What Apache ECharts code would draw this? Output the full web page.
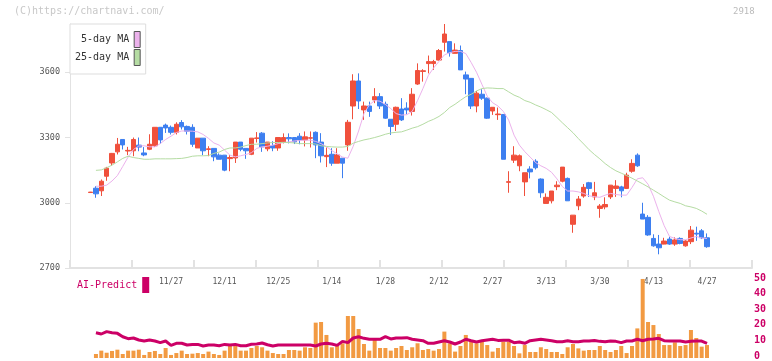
<!DOCTYPE html>
<html><head><meta charset="utf-8">
<script src="https://cdn.jsdelivr.net/npm/echarts@6/dist/echarts.min.js"></script>
<style>html,body{margin:0;padding:0;background:#fff}#c{width:772px;height:361px}</style>
</head><body><div id="c"></div>
<script>
const categories = ['11/6','11/7','11/8','11/11','11/12','11/13','11/14','11/15','11/18','11/19','11/20','11/21','11/22','11/25','11/26',
'11/27','11/28','11/29','12/2','12/3','12/4','12/5','12/6','12/9','12/10',
'12/11','12/12','12/13','12/16','12/17','12/18','12/19','12/20','12/23','12/24',
'12/25','12/26','12/27','12/30','1/6','1/7','1/8','1/9','1/10','1/13',
'1/14','1/15','1/16','1/17','1/20','1/21','1/22','1/23','1/24','1/27',
'1/28','1/29','1/30','1/31','2/3','2/4','2/5','2/6','2/7','2/10',
'2/12','2/13','2/14','2/17','2/18','2/19','2/20','2/21','2/25','2/26',
'2/27','2/28','3/2','3/3','3/4','3/5','3/6','3/9','3/10','3/11',
'3/13','3/16','3/17','3/18','3/19','3/23','3/24','3/25','3/26','3/27',
'3/30','3/31','4/1','4/2','4/3','4/6','4/7','4/8','4/9','4/10',
'4/13','4/14','4/15','4/16','4/17','4/20','4/21','4/22','4/23','4/24',
'4/27'];
const tickLabels = ['11/27','12/11','12/25','1/14','1/28','2/12','2/27','3/13','3/30','4/13','4/27'];
const openP = [3047,3067,3055,3122,3183,3234,3291,3238,3239,3265,3229,3246,3262,3347,3357,3347,3324,3369,3351,3347,
3252,3297,3245,3250,3219,3219,3203,3206,3279,3250,3223,3296,3320,3248,3263,3252,3280,3300,3300,3306,
3289,3297,3324,3279,3212,3223,3182,3205,3266,3445,3560,3427,3445,3473,3488,3453,3384,3361,3431,3435,
3420,3546,3604,3640,3640,3656,3738,3741,3687,3700,3588,3572,3445,3499,3481,3422,3405,3406,3094,3196,
3170,3096,3155,3191,3109,2997,3009,3074,3099,3112,2901,2986,3031,3092,3027,2974,2981,3027,3066,3073,
3066,3145,3219,2948,2933,2836,2810,2810,2833,2810,2836,2802,2821,2860,2871,2839];
const closeP = [3049,3041,3099,3159,3227,3269,3266,3241,3291,3256,3220,3269,3347,3289,3344,3324,3361,3349,3329,3269,
3297,3239,3248,3211,3200,3150,3208,3279,3246,3239,3297,3298,3257,3279,3252,3300,3300,3294,3280,3289,
3303,3299,3266,3216,3218,3182,3220,3182,3370,3560,3468,3445,3420,3488,3445,3389,3351,3439,3381,3427,
3499,3608,3607,3649,3649,3700,3776,3690,3702,3611,3569,3445,3504,3481,3389,3439,3408,3200,3097,3219,
3216,3138,3142,3161,3046,3025,3054,3081,3164,3009,2943,3017,3071,3066,3046,2985,2992,3081,3077,3055,
3127,3181,3170,2925,2852,2802,2793,2824,2810,2829,2813,2824,2874,2856,2839,2798];
const lowP = [3046,3023,3031,3101,3170,3222,3245,3219,3214,3237,3214,3242,3257,3271,3321,3314,3314,3337,3314,3257,
3252,3219,3214,3191,3200,3145,3145,3183,3237,3202,3219,3277,3234,3237,3237,3239,3273,3273,3270,3269,
3259,3254,3205,3185,3164,3170,3182,3113,3239,3384,3431,3381,3395,3458,3431,3386,3312,3330,3376,3407,
3401,3542,3557,3595,3611,3654,3695,3672,3687,3611,3499,3431,3416,3473,3386,3404,3381,3200,3046,3183,
3145,3031,3112,3153,3023,2997,2997,3058,3094,3009,2862,2966,3023,3027,3012,2931,2970,3017,3027,3025,
3063,3138,3165,2925,2848,2798,2763,2809,2806,2802,2809,2798,2810,2825,2833,2793];
const highP = [3050,3076,3107,3165,3229,3298,3291,3257,3300,3300,3256,3315,3347,3347,3364,3355,3370,3380,3355,3361,
3297,3297,3260,3250,3227,3219,3219,3279,3279,3250,3297,3325,3325,3279,3283,3300,3319,3319,3300,3320,
3328,3328,3328,3320,3254,3251,3251,3205,3381,3591,3595,3465,3465,3527,3504,3465,3384,3442,3481,3462,
3527,3641,3614,3677,3657,3707,3822,3741,3733,3723,3603,3572,3514,3522,3484,3439,3438,3406,3145,3260,
3222,3138,3168,3200,3112,3043,3054,3099,3164,3116,2943,3031,3086,3096,3096,2994,3025,3081,3104,3078,
3138,3200,3227,3000,2943,2855,2852,2839,2844,2841,2841,2829,2893,2890,2879,2859];
const ma5 = [null,3076,3076,3081,3100,3125,3167,3210,3245,3261,3262,3257,3257,3272,3291,3306,3323,3330,3330,3329,
3326,3314,3296,3275,3265,3242,3219,3211,3216,3222,3230,3250,3257,3260,3265,3272,3277,3280,3284,3286,
3288,3288,3282,3272,3258,3240,3225,3210,3205,3260,3330,3410,3450,3470,3467,3452,3433,3410,3403,3405,
3420,3470,3525,3585,3620,3650,3680,3690,3696,3696,3686,3645,3600,3545,3490,3460,3445,3420,3380,3311,
3265,3235,3210,3185,3170,3158,3140,3110,3075,3054,3054,3050,3043,3032,3028,3025,3035,3043,3038,3035,
3035,3070,3110,3115,3085,3030,2960,2895,2845,2836,2830,2830,2838,2845,2838,2836];
const ma25 = [null,3149,3151,3161,3173,3188,3204,3214,3208,3204,3200,3200,3202,3202,3202,3202,3203,3204,3208,3214,
3216,3216,3217,3227,3233,3245,3252,3252,3256,3263,3269,3269,3272,3275,3277,3277,3277,3277,3275,3272,
3272,3272,3270,3262,3259,3257,3256,3256,3259,3274,3282,3289,3294,3300,3307,3315,3321,3324,3326,3334,
3343,3350,3361,3374,3384,3397,3415,3438,3453,3471,3488,3499,3514,3525,3528,3527,3525,3525,3510,3495,
3485,3470,3462,3450,3440,3428,3415,3392,3368,3345,3322,3295,3270,3244,3222,3202,3180,3162,3147,3136,
3125,3113,3100,3087,3073,3058,3043,3027,3012,3004,2997,2986,2981,2974,2962,2947];
const volume = [null,2.5,4.6,3.3,4.4,5.2,2.5,4.6,4.6,5.2,1.9,3.75,4.4,2.5,6.25,1.9,3.1,4.6,2.5,2.7,
3.1,2.5,4.0,2.5,1.9,4.6,7.5,7.5,4.6,4.6,6.25,7.5,6.7,4.6,3.1,2.5,2.5,5.0,5.0,4.6,
6.7,6.25,22.1,22.5,14.4,6.7,7.5,9.2,26.25,26.25,18.1,8.75,4.6,11.25,6.25,6.25,4.6,6.25,7.5,5.0,
6.7,9.2,5.0,5.6,4.6,5.6,16.5,9.2,4.0,7.5,14.4,11.25,9.2,10.2,8.1,4.0,6.25,10.2,10.2,7.5,
2.9,8.1,3.75,3.75,6.7,5.6,3.75,3.75,2.5,6.7,8.75,6.0,4.6,5.0,5.0,7.5,5.0,3.75,5.0,7.5,
3.1,7.5,18.5,49.4,22.5,20.6,15.0,8.1,8.1,9.8,7.5,8.1,17.5,12.5,7.1,8.1];
const aiPredict = [null,15.8,15.0,16.5,15.8,15.4,13.3,12.1,12.5,11.25,10.6,11.25,10.6,9.6,10.6,7.9,9.2,9.2,8.1,8.5,
8.5,7.5,8.1,8.1,7.7,8.5,8.1,8.5,7.7,7.7,8.6,8.7,9.4,8.3,7.5,8.1,8.1,8.1,8.1,8.1,
8.1,8.1,7.5,8.75,9.2,8.75,7.9,10.4,9.6,12.5,13.3,12.3,11.7,11.7,11.7,13.3,11.9,12.5,12.5,12.7,
11.7,11.25,10.8,9.2,9.2,10.0,10.8,10.0,8.75,10.0,11.7,10.8,10.0,10.8,11.25,11.7,11.0,11.1,11.1,9.6,
10.0,9.2,10.8,11.25,11.7,11.25,10.8,10.2,10.2,10.8,10.2,10.2,10.6,10.6,11.0,10.4,10.2,10.6,10.4,9.6,
10.6,10.6,11.7,10.8,11.7,11.9,12.3,10.8,10.6,10.6,10.6,10.0,10.4,10.6,10.6,9.2];
const priceTicks = {min: 2700, step: 300};
const volTicks = {min: 0, max: 50, step: 10};

const MONO = "'DejaVu Sans Mono', 'Liberation Mono', monospace";
const RED = '#f0503c', BLUE = '#3d7ff0', PINK = '#ecb2ec', GREEN = '#b5dca3', CRIMSON = '#cc0066', ORANGE = '#f29a42';
const priceMax = Math.max(...highP);
const candles = categories.map((c, i) => [openP[i], closeP[i], lowP[i], highP[i]]);

const chart = echarts.init(document.getElementById('c'), null, {renderer: 'canvas'});
const slotL = 87.9, slotW = 621.8;
chart.setOption({
  animation: false,
  backgroundColor: '#fff',
  graphic: [
    {type: 'text', left: 14, top: 6, style: {text: '(C)https://chartnavi.com/', font: '10px ' + MONO, fill: '#c8c8c8'}},
    {type: 'text', left: 733, top: 7, style: {text: '2918', font: '9px ' + MONO, fill: '#bbbbbb'}}
  ],
  legend: [
    {data: ['5-day MA', '25-day MA'], orient: 'vertical', align: 'right', left: 70, top: 24,
     itemWidth: 6, itemHeight: 16, itemGap: 1, icon: 'rect', selectedMode: false,
     backgroundColor: '#fff', borderColor: '#dddddd', borderWidth: 1, borderRadius: 0, padding: [7, 5, 8, 5],
     textStyle: {fontFamily: MONO, fontSize: 10, color: '#333'},
     itemStyle: {borderColor: '#555', borderWidth: 1}},
    {data: ['AI-Predict'], orient: 'horizontal', align: 'right', left: 77, top: 277,
     itemWidth: 7, itemHeight: 16, icon: 'rect', selectedMode: false, padding: 0,
     textStyle: {fontFamily: MONO, fontSize: 10, color: CRIMSON}}
  ],
  grid: [
    {left: 70, right: 20, top: 24, bottom: 93},
    {left: slotL, width: slotW, top: 24, bottom: 93},
    {left: slotL, width: slotW, top: 278, bottom: 3},
    {left: 70, right: 20, top: 278, bottom: 3}
  ],
  xAxis: [
    {gridIndex: 0, type: 'value', min: 0, max: 11, interval: 1,
     axisLine: {show: true, lineStyle: {color: '#e2e2e2', width: 2}},
     axisTick: {show: true, inside: true, length: 8, lineStyle: {color: '#e2e2e2', width: 2}},
     axisLabel: {show: false}, splitLine: {show: false}},
    {gridIndex: 1, type: 'category', data: categories, boundaryGap: true,
     axisLine: {show: false}, axisTick: {show: false}, splitLine: {show: false},
     axisLabel: {interval: 0, margin: 10, fontFamily: MONO, fontSize: 8, color: '#555',
       formatter: v => tickLabels.includes(v) ? v : ''}},
    {gridIndex: 2, type: 'category', data: categories, boundaryGap: true, show: false},
    {gridIndex: 3, type: 'value', min: 0, max: 1, show: false}
  ],
  yAxis: [
    {gridIndex: 0, type: 'value', min: priceTicks.min, max: priceMax, interval: priceTicks.step,
     axisLine: {show: true, lineStyle: {color: '#e2e2e2', width: 1}},
     axisTick: {show: true, length: 5, lineStyle: {color: '#e2e2e2'}},
     axisLabel: {showMaxLabel: false, margin: 10, fontFamily: MONO, fontSize: 8.5, color: '#555',
       formatter: v => String(v)},
     splitLine: {show: false}},
    {gridIndex: 1, type: 'value', min: priceTicks.min, max: priceMax, show: false, splitLine: {show: false}},
    {gridIndex: 2, type: 'value', min: volTicks.min, max: volTicks.max, show: false, splitLine: {show: false}},
    {gridIndex: 3, type: 'value', position: 'right', min: volTicks.min, max: volTicks.max, interval: volTicks.step,
     axisLine: {show: false}, axisTick: {show: false}, splitLine: {show: false},
     axisLabel: {margin: 2, fontFamily: MONO, fontSize: 10, fontWeight: 'bold', color: CRIMSON}}
  ],
  series: [
    {name: 'price', type: 'candlestick', xAxisIndex: 1, yAxisIndex: 1, data: candles, barWidth: 5,
     itemStyle: {color: RED, color0: BLUE, borderColor: RED, borderColor0: BLUE, borderWidth: 1}},
    {name: '5-day MA', type: 'line', xAxisIndex: 1, yAxisIndex: 1, data: ma5, showSymbol: false, color: PINK,
     lineStyle: {color: PINK, width: 1}, itemStyle: {color: PINK}},
    {name: '25-day MA', type: 'line', xAxisIndex: 1, yAxisIndex: 1, data: ma25, showSymbol: false, color: GREEN,
     lineStyle: {color: GREEN, width: 1}, itemStyle: {color: GREEN}},
    {name: 'volume', type: 'bar', xAxisIndex: 2, yAxisIndex: 2, data: volume, barWidth: 4, itemStyle: {color: ORANGE}},
    {name: 'AI-Predict', type: 'line', xAxisIndex: 2, yAxisIndex: 2, data: aiPredict, showSymbol: false, color: CRIMSON,
     lineStyle: {color: CRIMSON, width: 3}, itemStyle: {color: CRIMSON}}
  ]
});
</script></body></html>
